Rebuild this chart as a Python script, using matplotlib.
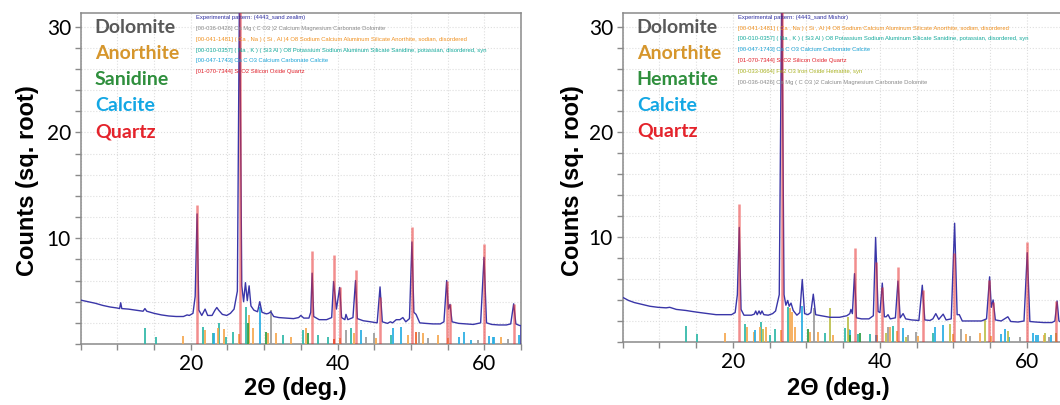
import matplotlib.pyplot as plt
from matplotlib.ticker import MultipleLocator, FixedLocator

plt.rcParams['font.family'] = ['Lato', 'DejaVu Sans']

# ------------------------- DATA ------------------------- #
# measured pattern, (2theta, sqrt counts) read off the picture
zealim_pattern = [
    (5.0, 4.15), (6.0, 4.0), (7.0, 3.85), (8.0, 3.65), (9.0, 3.5), (10.0, 3.4),
    (10.3, 3.35), (10.45, 3.9), (10.6, 3.35), (11.5, 3.3), (12.5, 3.2), (13.5, 3.1),
    (13.75, 3.35), (14.0, 3.1), (15.0, 2.9), (16.0, 2.75), (17.0, 2.65), (18.0, 2.6),
    (19.0, 2.6), (19.5, 2.75), (19.8, 2.7), (20.3, 2.9), (20.6, 4.5), (20.86, 12.3),
    (21.1, 3.2), (21.5, 2.7), (21.95, 3.3), (22.3, 2.7), (22.9, 2.7), (23.3, 3.2),
    (23.55, 3.45), (23.8, 3.2), (24.3, 2.8), (24.9, 2.7), (25.4, 2.9), (25.9, 3.3),
    (26.35, 5.0), (26.64, 34.0), (26.95, 5.5), (27.2, 4.0), (27.45, 5.8), (27.7, 4.1),
    (27.95, 5.5), (28.2, 3.6), (28.6, 3.2), (29.1, 3.05), (29.4, 4.0), (29.7, 3.0),
    (30.3, 2.85), (30.6, 2.9), (30.9, 3.05), (31.3, 2.6), (32.0, 2.5), (33.0, 2.45),
    (34.0, 2.4), (34.7, 2.5), (35.0, 2.7), (35.4, 2.45), (36.1, 2.45), (36.35, 3.0),
    (36.54, 6.7), (36.75, 2.6), (37.5, 2.3), (38.5, 2.3), (39.2, 2.5), (39.46, 5.9),
    (39.85, 3.3), (40.29, 5.35), (40.55, 2.5), (41.0, 2.3), (41.15, 2.8), (41.4, 2.3),
    (42.1, 2.5), (42.45, 6.0), (42.7, 2.4), (43.5, 2.2), (44.5, 2.1), (45.4, 2.0),
    (45.79, 5.4), (46.1, 2.1), (46.8, 1.95), (47.2, 2.1), (47.5, 2.0), (48.0, 2.3),
    (48.5, 2.3), (48.9, 2.5), (49.3, 2.1), (49.8, 2.4), (50.14, 9.65), (50.4, 3.0),
    (50.7, 2.8), (51.2, 2.0), (52.0, 1.95), (53.0, 1.9), (54.0, 1.9), (54.5, 2.1),
    (54.87, 6.0), (55.1, 3.3), (55.33, 3.75), (55.6, 2.1), (56.5, 1.95), (57.5, 1.9),
    (58.5, 1.85), (59.5, 2.0), (59.96, 8.2), (60.3, 2.0), (61.0, 1.85), (62.0, 1.8),
    (63.0, 1.8), (63.6, 1.9), (64.0, 3.8), (64.3, 1.9), (64.8, 1.75), (65.0, 1.75),
    (65.0, 0.0),
]
mishor_pattern = [
    (5.0, 4.25), (5.8, 3.95), (6.6, 3.75), (7.5, 3.6), (8.7, 3.4), (9.8, 3.3),
    (10.9, 3.25), (11.4, 3.3), (12.3, 3.1), (13.6, 3.0), (14.5, 2.9), (15.5, 2.8),
    (16.6, 2.7), (17.7, 2.6), (18.8, 2.6), (19.8, 2.6), (20.3, 2.8), (20.6, 4.5),
    (20.86, 10.9), (21.1, 3.1), (21.5, 2.55), (22.5, 2.55), (22.9, 2.65), (23.1, 2.95),
    (23.3, 2.6), (23.55, 2.95), (23.75, 2.65), (23.95, 2.95), (24.2, 2.6), (24.8, 2.55),
    (25.4, 2.7), (25.8, 2.95), (26.3, 4.5), (26.64, 34.0), (26.95, 4.5), (27.2, 3.5),
    (27.45, 3.95), (27.65, 3.4), (27.9, 3.7), (28.2, 3.0), (28.7, 2.55), (29.1, 2.8),
    (29.43, 5.95), (29.75, 2.7), (30.2, 2.6), (30.6, 2.8), (30.93, 4.55), (31.25, 2.6),
    (32.0, 2.5), (33.2, 2.35), (34.5, 2.35), (35.5, 2.5), (35.9, 2.7), (36.05, 3.1),
    (36.25, 2.7), (36.54, 6.5), (36.8, 2.3), (37.5, 2.2), (38.5, 2.2), (39.1, 2.5),
    (39.41, 9.95), (39.75, 2.9), (40.0, 2.8), (40.32, 5.6), (40.6, 2.4), (40.85, 2.4),
    (41.1, 2.6), (41.4, 2.2), (42.1, 2.3), (42.45, 5.8), (42.75, 2.3), (43.15, 2.7),
    (43.5, 2.2), (44.3, 2.1), (45.3, 2.05), (45.76, 5.4), (46.1, 2.1), (46.8, 2.05),
    (47.2, 2.2), (47.6, 2.7), (48.0, 2.15), (48.6, 2.65), (49.0, 2.1), (49.7, 2.2),
    (50.16, 11.3), (50.5, 2.6), (50.8, 2.6), (51.2, 2.0), (52.5, 2.0), (53.8, 2.0),
    (54.5, 2.2), (54.92, 6.2), (55.15, 3.3), (55.4, 4.0), (55.7, 2.1), (56.5, 2.0),
    (57.4, 2.4), (57.8, 1.95), (58.8, 1.9), (59.6, 2.0), (60.04, 8.5), (60.4, 1.95),
    (61.2, 1.9), (62.3, 1.85), (63.4, 1.85), (63.8, 2.0), (64.1, 3.9), (64.35, 2.0),
    (64.7, 1.85), (65.0, 1.85),
]

# reference sticks (position, height)
zealim_quartz = [(20.86, 13.1), (26.64, 34.0), (36.54, 8.8), (39.46, 8.4), (40.29, 5.35),
                 (42.45, 7.0), (45.79, 4.4), (50.14, 11.1), (54.87, 6.0), (55.33, 3.8),
                 (59.96, 9.43), (64.0, 3.8)]
zealim_sanidine = [(13.7, 1.48), (15.27, 0.69), (21.63, 1.64), (22.99, 1.08), (23.9, 1.96),
                   (24.8, 0.69), (25.72, 1.16), (27.53, 3.52), (32.5, 0.85), (35.25, 1.32),
                   (37.3, 0.85), (38.66, 0.69), (41.84, 1.48), (47.29, 0.85)]
zealim_anorthite = [(18.9, 0.75), (21.95, 1.32), (23.67, 1.48), (24.58, 1.38), (26.63, 0.94),
                    (27.99, 2.75), (28.44, 1.48), (30.49, 1.0), (31.62, 1.0), (33.66, 0.69),
                    (35.71, 1.48), (40.39, 0.53), (42.3, 1.0), (45.25, 0.53), (49.56, 0.85),
                    (51.6, 1.0), (53.65, 0.85), (55.01, 0.53), (62.28, 0.69)]
zealim_calcite = [(23.13, 1.08), (29.44, 3.52), (43.2, 1.32), (47.5, 1.48), (48.65, 1.64),
                  (56.6, 0.69), (57.28, 1.16), (58.2, 0.38), (60.7, 0.75), (61.14, 0.69),
                  (61.37, 0.69), (64.77, 0.85)]
zealim_dolomite = [(30.94, 3.21), (41.16, 1.32), (43.9, 0.69), (45.02, 1.0), (51.15, 1.16),
                   (52.29, 0.53), (59.1, 0.38), (63.2, 0.45)]
zealim_green = [(27.76, 2.0), (30.26, 1.16), (35.94, 1.0)]
zealim_minor_red = [(39.57, 0.5), (50.7, 1.16)]

mishor_quartz = [(20.86, 13.1), (26.64, 34.0), (36.54, 8.9), (39.46, 7.6), (40.29, 5.2),
                 (42.45, 7.1), (45.79, 4.9), (50.14, 8.5), (54.87, 5.9), (55.33, 3.8),
                 (59.96, 9.5), (64.0, 3.9)]
mishor_sanidine = [(13.56, 1.55), (15.15, 0.76), (21.59, 1.71), (23.81, 1.93), (25.0, 0.66),
                   (25.7, 1.2), (27.53, 3.36), (32.5, 0.82), (35.3, 1.36), (37.0, 0.8),
                   (38.6, 0.76), (41.77, 1.52), (47.2, 0.88)]
mishor_anorthite = [(18.87, 0.82), (21.9, 1.45), (22.81, 0.98), (23.63, 1.45), (24.5, 1.45),
                    (26.6, 1.15), (27.8, 3.2), (28.07, 2.9), (28.5, 1.45), (30.45, 0.98),
                    (31.6, 0.98), (33.6, 0.66), (35.8, 1.2), (39.6, 0.66), (41.3, 1.45),
                    (42.3, 1.0), (45.2, 0.6), (49.9, 0.8), (51.65, 0.75), (53.6, 0.88),
                    (55.1, 0.6), (62.3, 0.7)]
mishor_calcite = [(23.04, 1.15), (29.43, 3.4), (35.96, 1.15), (39.4, 0.7), (43.2, 1.3),
                  (47.5, 1.4), (48.6, 1.6), (56.5, 0.76), (57.0, 1.2), (57.5, 0.5),
                  (60.8, 0.88), (61.2, 0.7), (61.5, 0.7), (63.3, 0.7), (64.8, 1.0)]
mishor_dolomite = [(30.97, 3.2), (41.1, 1.45), (43.8, 0.66), (44.9, 0.98), (51.06, 1.2),
                   (52.2, 0.55), (59.1, 0.45), (63.0, 0.5)]
mishor_hematite = [(24.15, 1.2), (33.15, 3.25), (35.65, 2.4), (40.85, 0.9), (43.5, 0.5),
                   (49.57, 1.73), (54.24, 2.1), (57.4, 1.0), (62.4, 0.82), (64.0, 0.9)]
mishor_green = [(30.2, 1.2), (37.3, 0.9), (35.9, 0.7)]

zealim_names = ["Dolomite", "Anorthite", "Sanidine", "Calcite", "Quartz"]
mishor_names = ["Dolomite", "Anorthite", "Hematite", "Calcite", "Quartz"]

zealim_cards = [
    "Experimental pattern: (4443_sand zealim)",
    "[00-036-0426] Ca Mg ( C O3 )2 Calcium Magnesium Carbonate Dolomite",
    "[00-041-1481] ( Ca , Na ) ( Si , Al )4 O8 Sodium Calcium Aluminum Silicate Anorthite, sodian, disordered",
    "[00-010-0357] ( Na , K ) ( Si3 Al ) O8 Potassium Sodium Aluminum Silicate Sanidine, potassian, disordered, syn",
    "[00-047-1743] Ca C O3 Calcium Carbonate Calcite",
    "[01-070-7344] Si O2 Silicon Oxide Quartz",
]
mishor_cards = [
    "Experimental pattern: (4443_sand Mishor)",
    "[00-041-1481] ( Ca , Na ) ( Si , Al )4 O8 Sodium Calcium Aluminum Silicate Anorthite, sodian, disordered",
    "[00-010-0357] ( Na , K ) ( Si3 Al ) O8 Potassium Sodium Aluminum Silicate Sanidine, potassian, disordered, syn",
    "[00-047-1743] Ca C O3 Calcium Carbonate Calcite",
    "[01-070-7344] Si O2 Silicon Oxide Quartz",
    "[00-033-0664] Fe2 O3 Iron Oxide Hematite, syn",
    "[00-036-0426] Ca Mg ( C O3 )2 Calcium Magnesium Carbonate Dolomite",
]

# ------------------------- STYLE ------------------------- #
PATTERN = "#3a36a8"
NAME_COL = {"Dolomite": "#595959", "Anorthite": "#d6962c", "Sanidine": "#2f8f3d",
            "Hematite": "#2f8f3d", "Calcite": "#13a7e4", "Quartz": "#e4232b"}
CARD_COL = {"Exp": "#2c2ca0", "Dolomite": "#8a8a8a", "Anorthite": "#f0901e", "Sanidine": "#12a89a",
            "Calcite": "#1aa3d6", "Quartz": "#e0202a", "Hematite": "#a9b223"}
STICK_COL = {"sanidine": "#2fb8a8", "anorthite": "#f5a850", "calcite": "#2aaee3",
             "dolomite": "#9c9c9c", "green": "#2e9e44", "hematite": "#bcc04c", "red": "#f0602a"}


def card_colour(line):
    if line.startswith("Experimental"):
        return CARD_COL["Exp"]
    for name in ["Dolomite", "Anorthite", "Sanidine", "Calcite", "Quartz", "Hematite"]:
        if line.endswith(name) or (name + ",") in line:
            return CARD_COL[name]
    return "#808080"


def sticks(ax, data, colour, lw=1.5, alpha=0.85, z=3):
    pos = [p for p, h in data]
    hts = [h for p, h in data]
    ax.vlines(pos, 0, hts, colors=colour, linewidth=lw, alpha=alpha, zorder=z)


def draw_panel(ax, pattern, quartz, small_sets, names, cards):
    for data, col in small_sets:
        sticks(ax, data, col, lw=1.4, alpha=0.9)
    ax.plot([p for p, c in pattern], [c for p, c in pattern], color=PATTERN, lw=1.0, zorder=4)
    # quartz sticks drawn see-through over the pattern, so peaks turn purple
    sticks(ax, quartz, "#e83030", lw=1.8, alpha=0.55, z=5)

    ax.set_xlim(5, 65)
    ax.set_ylim(0, 31.3)
    ax.xaxis.set_major_locator(FixedLocator([20, 40, 60]))
    ax.xaxis.set_minor_locator(MultipleLocator(5))
    ax.yaxis.set_major_locator(FixedLocator([10, 20, 30]))
    ax.yaxis.set_minor_locator(MultipleLocator(2))
    ax.grid(which="both", color="#dedede", linestyle=":", linewidth=0.8)
    ax.set_axisbelow(True)
    ax.tick_params(which="both", direction="out", color="#8a8a8a", length=4, width=1.0)
    ax.tick_params(which="major", labelsize=15, pad=3)
    for s in ax.spines.values():
        s.set_color("#8a8a8a")
        s.set_linewidth(1.1)

    for i, n in enumerate(names):
        ax.text(0.032, 0.955 - i * 0.0785, n, transform=ax.transAxes, color=NAME_COL[n],
                fontsize=14, fontweight="bold", va="center", ha="left", zorder=6)
    for i, line in enumerate(cards):
        ax.text(0.262, 0.987 - i * 0.033, line, transform=ax.transAxes, color=card_colour(line),
                fontsize=4.2, family="Liberation Sans", va="center", ha="left", zorder=6)


fig = plt.figure(figsize=(10.6, 4.05), dpi=100)
W, H = 1060.0, 405.0
ax1 = fig.add_axes([80.7 / W, (H - 344) / H, 440.3 / W, 331 / H])
ax2 = fig.add_axes([622.7 / W, (H - 342) / H, 441.0 / W, 329 / H])

draw_panel(ax1, zealim_pattern, zealim_quartz,
           [(zealim_sanidine, STICK_COL["sanidine"]), (zealim_anorthite, STICK_COL["anorthite"]),
            (zealim_calcite, STICK_COL["calcite"]), (zealim_dolomite, STICK_COL["dolomite"]),
            (zealim_green, STICK_COL["green"]), (zealim_minor_red, STICK_COL["red"])],
           zealim_names, zealim_cards)
draw_panel(ax2, mishor_pattern, mishor_quartz,
           [(mishor_sanidine, STICK_COL["sanidine"]), (mishor_anorthite, STICK_COL["anorthite"]),
            (mishor_calcite, STICK_COL["calcite"]), (mishor_dolomite, STICK_COL["dolomite"]),
            (mishor_hematite, STICK_COL["hematite"]), (mishor_green, STICK_COL["green"])],
           mishor_names, mishor_cards)

# axis titles
for xc, yc in [(28, 181), (573, 181)]:
    fig.text(xc / W, 1 - yc / H, "Counts (sq. root)", rotation=90, ha="center", va="center",
             fontsize=17, fontweight="bold", family="Liberation Sans")
for xc in [295, 838]:
    fig.text(xc / W, 1 - 388 / H, "2Θ (deg.)", ha="center", va="center",
             fontsize=17, fontweight="bold", family="Liberation Sans")

fig.savefig("out.png", dpi=100)
